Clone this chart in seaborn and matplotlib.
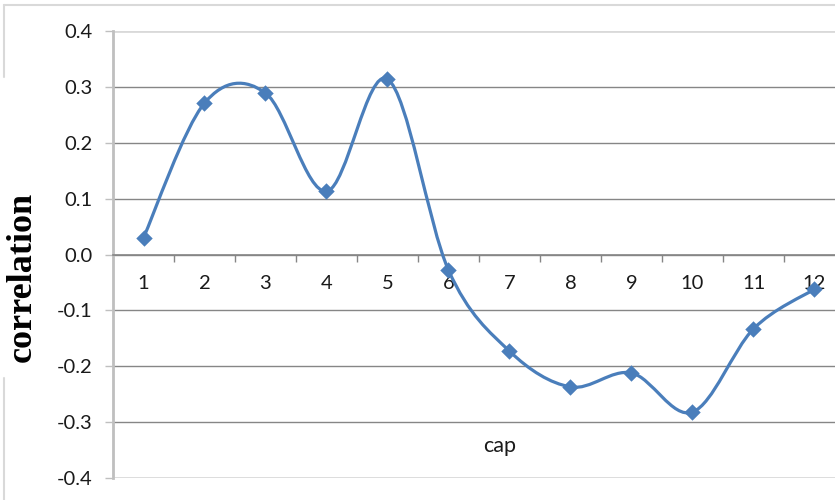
import numpy as np
import pandas as pd
import seaborn as sns
import matplotlib.pyplot as plt
from matplotlib.path import Path
from matplotlib.patches import PathPatch
from matplotlib.lines import Line2D

# values
caps = [1, 2, 3, 4, 5, 6, 7, 8, 9, 10, 11, 12]
corr = [0.03, 0.271, 0.289, 0.113, 0.314, -0.028, -0.173, -0.237, -0.212, -0.282, -0.133, -0.062]
y_ticks = [-0.4, -0.3, -0.2, -0.1, 0.0, 0.1, 0.2, 0.3, 0.4]
y_tick_labels = ['-0.4', '-0.3', '-0.2', '-0.1', '0.0', '0.1', '0.2', '0.3', '0.4']

df = pd.DataFrame({'cap': caps, 'correlation': corr})

sns.set_theme(style='white')
plt.rcParams['font.family'] = ['Lato', 'DejaVu Sans']
plt.rcParams['axes.unicode_minus'] = False

blue = '#4A7EBB'
grid_col = '#868686'

fig = plt.figure(figsize=(8.35, 5), dpi=100)
ax = fig.add_axes([113 / 835, 22 / 500, 732 / 835, 447 / 500])

# Excel-style smoothed line (cubic bezier, catmull-rom control points)
x = df['cap'].to_numpy(float)
y = df['correlation'].to_numpy(float)
n = len(x)
verts = [(x[0], y[0])]
codes = [Path.MOVETO]
for i in range(n - 1):
    x0, y0 = (x[i - 1], y[i - 1]) if i > 0 else (x[i], y[i])
    x3, y3 = (x[i + 2], y[i + 2]) if i + 2 < n else (x[i + 1], y[i + 1])
    c1 = (x[i] + (x[i + 1] - x0) / 6, y[i] + (y[i + 1] - y0) / 6)
    c2 = (x[i + 1] - (x3 - x[i]) / 6, y[i + 1] - (y3 - y[i]) / 6)
    verts += [c1, c2, (x[i + 1], y[i + 1])]
    codes += [Path.CURVE4] * 3
ax.add_patch(PathPatch(Path(verts, codes), facecolor='none', edgecolor=blue,
                       lw=2.3, capstyle='round', joinstyle='round', zorder=3))

sns.scatterplot(data=df, x='cap', y='correlation', marker='D', s=70,
                color='#4A7EBB', linewidth=0, ax=ax, zorder=4, clip_on=False)

ax.set_xlim(0.5, 12.5)
ax.set_ylim(-0.4, 0.4)

# y axis
ax.set_yticks(y_ticks)
ax.set_yticklabels(y_tick_labels)
ax.tick_params(axis='y', which='major', direction='out', length=6, width=1,
               color='#bfbfbf', pad=9, labelsize=14.5, labelcolor='#1a1a1a', left=True)
ax.yaxis.grid(True, color=grid_col, lw=1)
gl = ax.get_ygridlines()
gl[0].set_color('#d9d9d9')
gl[-1].set_color('#d9d9d9')
gl[0].set_linewidth(2)
gl[-1].set_linewidth(2)

# x axis at zero with category ticks between labels
ax.spines['bottom'].set_position(('data', 0))
ax.spines['bottom'].set_color(grid_col)
ax.spines['bottom'].set_linewidth(1.2)
ax.set_xticks(caps)
ax.set_xticklabels([str(c) for c in caps])
ax.set_xticks([c + 0.5 for c in caps[:-1]], minor=True)
ax.tick_params(axis='x', which='major', length=0, pad=15, labelsize=14.5, labelcolor='#1a1a1a')
ax.tick_params(axis='x', which='minor', direction='out', length=5, width=1,
               color=grid_col, bottom=True)

ax.spines['left'].set_color('#bfbfbf')
ax.spines['left'].set_linewidth(2)
ax.spines['top'].set_visible(False)
ax.spines['right'].set_visible(False)

ax.set_xlabel('cap', fontsize=15.5, color='#1a1a1a')
ax.xaxis.set_label_coords((500 - 113) / 732, (478 - 436) / 447)
ax.set_ylabel('')

# outer chart frame
fig.add_artist(Line2D([4 / 835, 1.0], [1 - 5 / 500, 1 - 5 / 500], color='#d9d9d9', lw=1.5))
fig.add_artist(Line2D([4 / 835, 4 / 835], [1 - 5 / 500, 1 - 77 / 500], color='#d9d9d9', lw=1.5))
fig.add_artist(Line2D([4 / 835, 4 / 835], [1 - 378 / 500, 0.0], color='#d9d9d9', lw=1.5))

fig.text(22 / 835, 1 - 277 / 500, 'correlation', rotation=90, ha='center', va='center',
         fontsize=26, fontweight='bold', family=['Liberation Serif', 'DejaVu Serif'],
         color='black')

plt.savefig('out.png', dpi=100)
